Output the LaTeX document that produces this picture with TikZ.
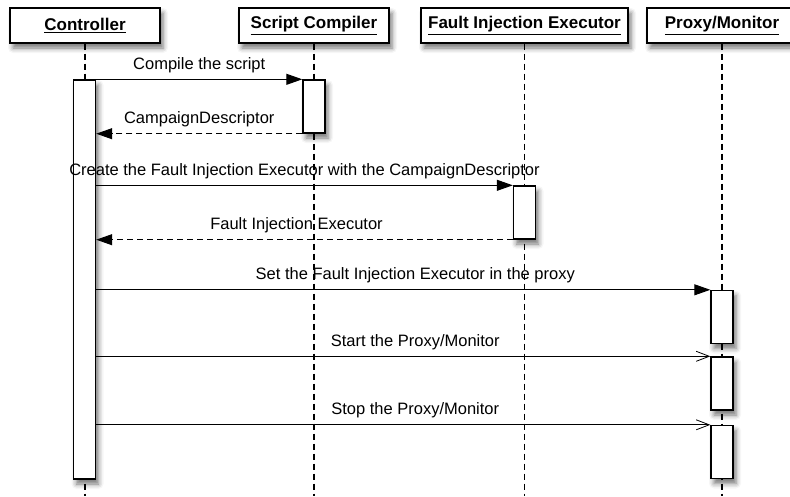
\documentclass[tikz,border=0pt]{standalone}
\usepackage{fontspec}
\setmainfont{Liberation Sans}
\usetikzlibrary{arrows.meta,shadows.blur}

\begin{document}
\begin{tikzpicture}
  [x=1pt,y=-1pt,
   every node/.style={font=\fontsize{16.5}{19}\selectfont},
   shade/.style={blur shadow={shadow xshift=3pt,shadow yshift=-5pt,shadow blur radius=5pt,shadow opacity=55}},
   head/.style={draw,line width=1.4pt,fill=white,shade,minimum height=35pt,font=\fontsize{17}{20}\selectfont\bfseries},
   act/.style={draw,line width=1.4pt,fill=white,shade,minimum width=22pt,minimum height=53pt,inner sep=0pt},
   life/.style={line width=1.1pt,dash pattern=on 6pt off 4pt},
   call/.style={line width=1pt,-{Triangle[length=16pt,width=11pt]}},
   ret/.style={call,dash pattern=on 6pt off 4pt},
   sig/.style={line width=0.8pt,-{Straight Barb[length=13pt,width=10pt,line width=0.8pt]}},
   lbl/.style={above,inner sep=6pt,text height=12pt,text depth=3.5pt}]
  \useasboundingbox (0,0) rectangle (790,496);

  % objects
  \node[head,minimum width=150pt] (ctrl) at (85,25.5)    {\underline{Controller}};
  \node[head,minimum width=150pt] (comp) at (314,25.5)   {\underline{Script Compiler}};
  \node[head,minimum width=207pt] (fie)  at (524.5,25.5) {\underline{Fault Injection Executor}};
  \node[head,minimum width=150pt] (prox) at (722,25.5)   {\underline{Proxy/Monitor}};

  % lifelines
  \foreach \obj in {ctrl, comp, fie, prox}
    \draw [life] (\obj.south) -- (\obj |- 0,496);

  % activations
  \node[act,minimum height=399pt] (ctrlact) at (84.5,279.5) {};
  \node[act] (compact) at (314,106.5) {};
  \node[act] (fieact)  at (524.5,212.5) {};
  \foreach \n/\y in {1/317, 2/383.5, 3/452}
    \node[act] (proxact\n) at (722,\y) {};

  % messages
  \draw [call] (ctrlact.east |- compact.north) -- node[lbl] {Compile the script} (compact.north west);
  \draw [ret] (compact.south west) -- node[lbl] {CampaignDescriptor} (ctrlact.east |- compact.south);
  \draw [call] (ctrlact.east |- fieact.north) -- node[lbl] {Create the Fault Injection Executor with the CampaignDescriptor} (fieact.north west);
  \draw [ret] (fieact.south west) -- node[lbl,xshift=-8pt] {Fault Injection Executor} (ctrlact.east |- fieact.south);
  \draw [call] (ctrlact.east |- proxact1.north) -- node[lbl,xshift=12pt] {Set the Fault Injection Executor in the proxy} (proxact1.north west);
  \foreach \n/\txt in {2/{Start the Proxy/Monitor}, 3/{Stop the Proxy/Monitor}}
    \draw [sig] (ctrlact.east |- proxact\n.north) -- node[lbl,xshift=12pt] {\txt} (proxact\n.north west);

\end{tikzpicture}
\end{document}
